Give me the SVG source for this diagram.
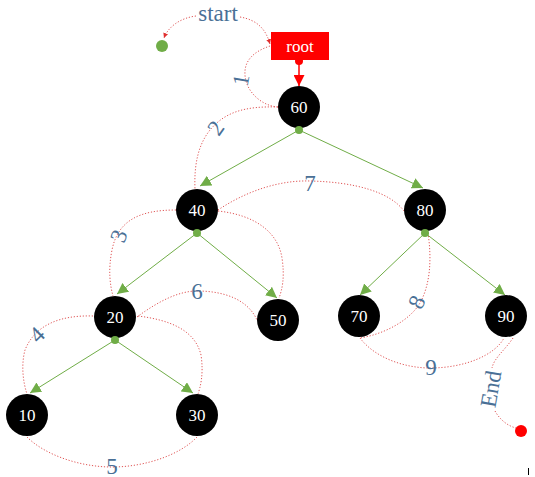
<svg xmlns="http://www.w3.org/2000/svg" width="535" height="477" viewBox="0 0 535 477">
<defs>
<style>
.node circle{fill:#000}
.node text{fill:#fff;font-family:"Liberation Serif",serif;font-size:17px;text-anchor:middle;dominant-baseline:central}
.tree{stroke:#70AD47;stroke-width:1;fill:none;marker-end:url(#ga)}
.trav{stroke:#E05555;stroke-width:1;fill:none;stroke-dasharray:1.2 1.8}
.lbl{fill:#4A7096;font-family:"Liberation Serif",serif;font-size:23px;text-anchor:middle;dominant-baseline:central}
.gdot{fill:#70AD47}
</style>
<marker id="ga" viewBox="0 0 10 10" refX="10" refY="5" markerWidth="11" markerHeight="11" markerUnits="userSpaceOnUse" orient="auto"><path d="M0,0 L10,5 L0,10 z" fill="#70AD47"/></marker>
<marker id="ra" viewBox="0 0 10 10" refX="10" refY="5" markerWidth="11" markerHeight="11" markerUnits="userSpaceOnUse" orient="auto"><path d="M0,0 L10,5 L0,10 z" fill="#FF0000"/></marker>
<marker id="rs" viewBox="0 0 10 10" refX="10" refY="5" markerWidth="5" markerHeight="5" markerUnits="userSpaceOnUse" orient="auto"><path d="M0,0 L10,5 L0,10 z" fill="#E03030"/></marker>
</defs>
<rect width="535" height="477" fill="#fff"/>
<g id="connectors">
<path class="trav" d="M196,16 C180,18 168,27 164,38" marker-end="url(#rs)"/>
<path class="trav" d="M240,17 C258,20 266,30 270,44" marker-end="url(#rs)"/>
<path class="trav" d="M270,46 C252,52 244,62 245,75 C246,92 262,106 278,107"/>
<path class="trav" d="M278,107 C245,106 225,112 210,130 C198,145 194,165 195,189"/>
<path class="trav" d="M218,210 C245,192 278,180 310,181 C355,182 390,192 404,211"/>
<path class="trav" d="M176,210 C140,210 118,220 112,250 C108,270 110,285 113,296"/>
<path class="trav" d="M218,211 C255,215 278,232 282,258 C285,278 282,290 279,298"/>
<path class="trav" d="M137,317 C160,300 180,291 197,291 C225,291 248,300 257,320"/>
<path class="trav" d="M138,316 C170,320 195,330 201,355 C204,375 200,388 198,394"/>
<path class="trav" d="M93,316 C60,315 35,325 25,350 C21,365 23,382 27,394"/>
<path class="trav" d="M27,437 C45,455 80,467 112,467 C145,467 180,455 197,437"/>
<path class="trav" d="M428,233 C432,260 430,285 420,303 C410,320 385,334 360,338"/>
<path class="trav" d="M360,338 C375,358 405,368 430,368 C465,368 495,355 504,338"/>
<path class="trav" d="M513,338 C505,350 494,358 492,368"/>
<path class="trav" d="M495,411 C500,420 508,426 516,428"/>
<line x1="299" y1="62" x2="299" y2="86" stroke="#FF0000" stroke-width="1.5" marker-end="url(#ra)"/>
<line class="tree" x1="299" y1="130" x2="200" y2="186"/>
<line class="tree" x1="299" y1="130" x2="423" y2="188"/>
<line class="tree" x1="197" y1="233" x2="117" y2="294"/>
<line class="tree" x1="197" y1="233" x2="277" y2="298"/>
<line class="tree" x1="425" y1="233" x2="360" y2="295"/>
<line class="tree" x1="425" y1="233" x2="505" y2="295"/>
<line class="tree" x1="115" y1="340" x2="30" y2="393"/>
<line class="tree" x1="115" y1="340" x2="193" y2="393"/>
</g>
<g id="start"><circle cx="162" cy="46" r="6" class="gdot"/></g>
<g id="end"><circle cx="521" cy="431" r="6" fill="#FF0000"/></g>
<g id="root">
<rect x="271" y="32" width="58" height="28" fill="#FF0000"/>
<text x="300" y="46" fill="#fff" font-family="Liberation Serif,serif" font-size="17" text-anchor="middle" dominant-baseline="central">root</text>
<circle cx="299" cy="61" r="4" fill="#FF0000"/>
</g>
<g id="n60" class="node"><circle cx="299" cy="107" r="21"/><text x="299" y="107">60</text></g>
<g id="n40" class="node"><circle cx="197" cy="210" r="21"/><text x="197" y="210">40</text></g>
<g id="n80" class="node"><circle cx="425" cy="210" r="21"/><text x="425" y="210">80</text></g>
<g id="n20" class="node"><circle cx="115" cy="317" r="21"/><text x="115" y="317">20</text></g>
<g id="n50" class="node"><circle cx="278" cy="320" r="21"/><text x="278" y="320">50</text></g>
<g id="n70" class="node"><circle cx="359" cy="316" r="21"/><text x="359" y="316">70</text></g>
<g id="n90" class="node"><circle cx="506" cy="316" r="21"/><text x="506" y="316">90</text></g>
<g id="n10" class="node"><circle cx="27" cy="415" r="21"/><text x="27" y="415">10</text></g>
<g id="n30" class="node"><circle cx="197" cy="415" r="21"/><text x="197" y="415">30</text></g>
<g id="dots">
<circle cx="299" cy="130" r="4" class="gdot"/>
<circle cx="197" cy="233" r="4" class="gdot"/>
<circle cx="425" cy="233" r="4" class="gdot"/>
<circle cx="115" cy="340" r="4" class="gdot"/>
</g>
<g id="labels">
<text class="lbl" x="218" y="13" font-size="24">start</text>
<text class="lbl" x="241" y="80" transform="rotate(-80 241 80)">1</text>
<text class="lbl" x="216" y="128" transform="rotate(-55 216 128)">2</text>
<text class="lbl" x="119" y="236" transform="rotate(-70 119 236)">3</text>
<text class="lbl" x="37" y="335" transform="rotate(-45 37 335)">4</text>
<text class="lbl" x="112" y="466">5</text>
<text class="lbl" x="197" y="291">6</text>
<text class="lbl" x="310" y="183">7</text>
<text class="lbl" x="417" y="302" transform="rotate(-65 417 302)">8</text>
<text class="lbl" x="431" y="367">9</text>
<text class="lbl" x="491" y="389" transform="rotate(-80 491 389)">End</text>
</g>
<line x1="528.5" y1="468" x2="528.5" y2="475" stroke="#000" stroke-width="1"/>
</svg>
